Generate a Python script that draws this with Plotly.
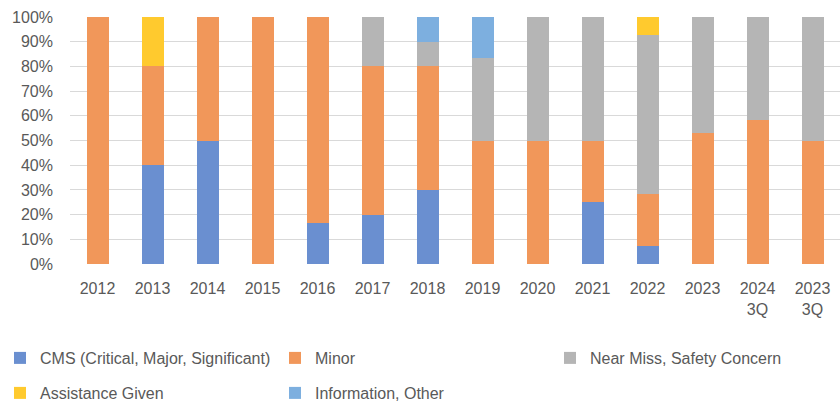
import plotly.graph_objects as go

categories = ["2012", "2013", "2014", "2015", "2016", "2017", "2018", "2019",
              "2020", "2021", "2022", "2023", "2024<br>3Q", "2023<br>3Q"]

cms = [0, 40, 50, 0, 16.7, 20, 30, 0, 0, 25, 7.1, 0, 0, 0]
minor = [100, 40, 50, 100, 83.3, 60, 50, 50, 50, 25, 21.4, 52.9, 58.3, 50]
near_miss = [0, 0, 0, 0, 0, 20, 10, 33.3, 50, 50, 64.3, 47.1, 41.7, 50]
assistance = [0, 20, 0, 0, 0, 0, 0, 0, 0, 0, 7.1, 0, 0, 0]
information = [0, 0, 0, 0, 0, 0, 10, 16.7, 0, 0, 0, 0, 0, 0]

series = [
    ("CMS (Critical, Major, Significant)", cms, "#6A8FD0", "legend"),
    ("Minor", minor, "#F1975A", "legend"),
    ("Near Miss, Safety Concern", near_miss, "#B5B5B5", "legend"),
    ("Assistance Given", assistance, "#FFCA2E", "legend2"),
    ("Information, Other", information, "#7DAFDF", "legend2"),
]

font_family = "Liberation Sans"
text_color = "#595959"

fig = go.Figure()
for name, vals, color, leg in series:
    fig.add_trace(go.Bar(
        x=categories, y=vals, name=name,
        marker=dict(color=color, line=dict(width=0)),
        legend=leg,
    ))

L, R, T, B = 70, 0, 17, 139
W, H = 840, 403
pw = W - L - R
ph = H - T - B

leg_common = dict(
    orientation="h", xanchor="left", yanchor="top",
    entrywidth=230, entrywidthmode="pixels",
    font=dict(family=font_family, size=16, color=text_color),
    bgcolor="rgba(0,0,0,0)", borderwidth=0,
    traceorder="normal",
)

fig.update_layout(
    width=W, height=H,
    margin=dict(l=L, r=R, t=T, b=B, autoexpand=False),
    barmode="stack", barnorm="percent",
    bargap=0.6,
    plot_bgcolor="white", paper_bgcolor="white",
    font=dict(family=font_family, size=16, color=text_color),
    showlegend=True,
    legend=dict(x=(0 - L) / pw, y=(264 - 341) / ph, **leg_common),
    legend2=dict(x=(0 - L) / pw, y=(264 - 376) / ph, **leg_common),
    xaxis=dict(
        type="category", showgrid=False, zeroline=False, showline=False,
        ticks="", ticklabelstandoff=13,
        tickfont=dict(family=font_family, size=16, color=text_color),
    ),
    yaxis=dict(
        range=[0, 100], dtick=10, ticksuffix="%",
        showgrid=True, gridcolor="#D9D9D9", gridwidth=1,
        zeroline=False, showline=False, ticks="", ticklabelstandoff=16,
        tickfont=dict(family=font_family, size=16, color=text_color),
    ),
)

fig.write_html(
    "out.html",
    config={"displayModeBar": False},
    post_script="document.body.style.margin='0';document.body.style.overflow='hidden';",
)
